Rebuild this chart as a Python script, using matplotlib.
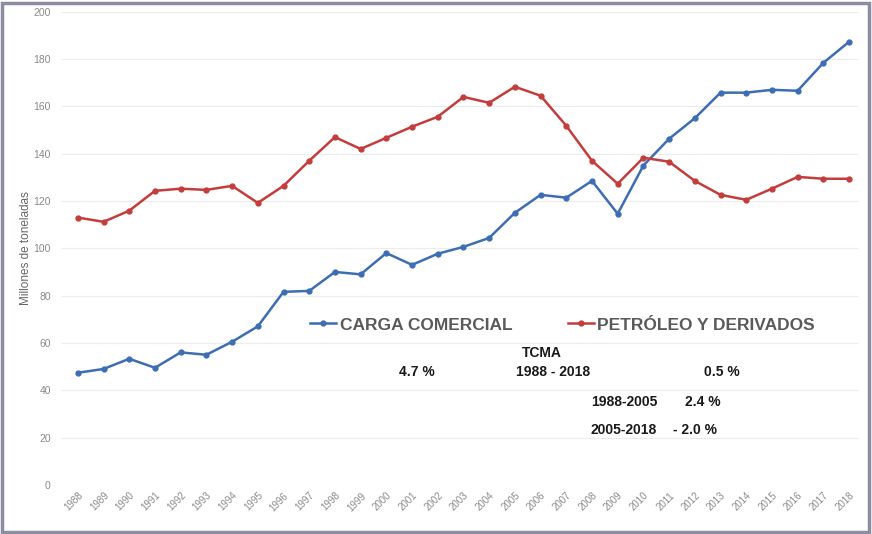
import matplotlib.pyplot as plt
from matplotlib.patches import Rectangle

years = list(range(1988, 2019))

carga_comercial = [47.4, 49.0, 53.3, 49.5, 56.0, 55.0, 60.5, 67.0, 81.6, 82.0,
                   90.0, 89.0, 98.0, 93.0, 97.7, 100.6, 104.4, 115.0, 122.6, 121.4,
                   128.5, 114.6, 135.0, 146.3, 155.0, 165.8, 165.8, 167.0, 166.6, 178.4,
                   187.3]

petroleo = [113.0, 111.2, 115.9, 124.3, 125.2, 124.7, 126.4, 119.2, 126.4, 137.0,
            147.0, 142.0, 146.7, 151.4, 155.6, 164.0, 161.5, 168.3, 164.5, 151.8,
            137.0, 127.3, 138.3, 136.6, 128.5, 122.6, 120.5, 125.2, 130.2, 129.4,
            129.4]

yticks = list(range(0, 201, 20))

# tasas de crecimiento medio anual
tcma_labels = [
    ('TCMA', 2006.05, 55.9),
    ('4.7 %', 2001.2, 47.8),
    ('1988 - 2018', 2006.5, 47.8),
    ('0.5 %', 2013.05, 47.8),
    ('1988-2005', 2009.25, 35.1),
    ('2.4 %', 2012.3, 35.1),
    ('2005-2018', 2009.25, 23.3),
    ('- 2.0 %', 2012.0, 23.3),
]

plt.rcParams['font.family'] = ['Liberation Sans', 'DejaVu Sans']

fig = plt.figure(figsize=(8.72, 5.34), dpi=100)
fig.patch.set_facecolor('white')
ax = fig.add_axes([0.071, 0.092, 0.913, 0.886])

ax.plot(years, carga_comercial, color='#3d6db3', linewidth=1.8, marker='o',
        markersize=3.5, label='CARGA COMERCIAL', zorder=3)
ax.plot(years, petroleo, color='#c43c3c', linewidth=1.8, marker='o',
        markersize=3.5, label='PETRÓLEO Y DERIVADOS', zorder=3)

ax.set_ylim(0, 200)
ax.set_xlim(1987.38, 2018.35)
ax.set_yticks(yticks)
ax.set_xticks(years)
ax.set_xticklabels([str(y) for y in years], rotation=45, ha='right',
                   rotation_mode='anchor', fontsize=7, color='#8a8a8a')
ax.tick_params(axis='y', labelsize=7.5, colors='#8a8a8a', length=0, pad=8)
ax.tick_params(axis='x', length=0, pad=4)
ax.grid(axis='y', color='#ececec', linewidth=0.8)
ax.set_axisbelow(True)
for s in ax.spines.values():
    s.set_visible(False)

ax.set_ylabel('Millones de toneladas', fontsize=8.5, color='#666666', labelpad=1)

leg = ax.legend(loc='center', bbox_to_anchor=(0.629, 0.338), ncol=2, frameon=False,
                fontsize=12.5, handlelength=1.5, handletextpad=0.2, columnspacing=3.2)
for t in leg.get_texts():
    t.set_color('#5a5a5a')
    t.set_fontweight('bold')

for txt, x, y in tcma_labels:
    ax.text(x, y, txt, fontsize=10, fontweight='bold', ha='center', va='center',
            color='#1a1a1a')

# marco exterior
fig.patches.append(Rectangle((0.002, 0.004), 0.995, 0.99, transform=fig.transFigure,
                             fill=False, edgecolor='#8c8ca2', linewidth=2.5))

fig.savefig('out.png', dpi=100)
